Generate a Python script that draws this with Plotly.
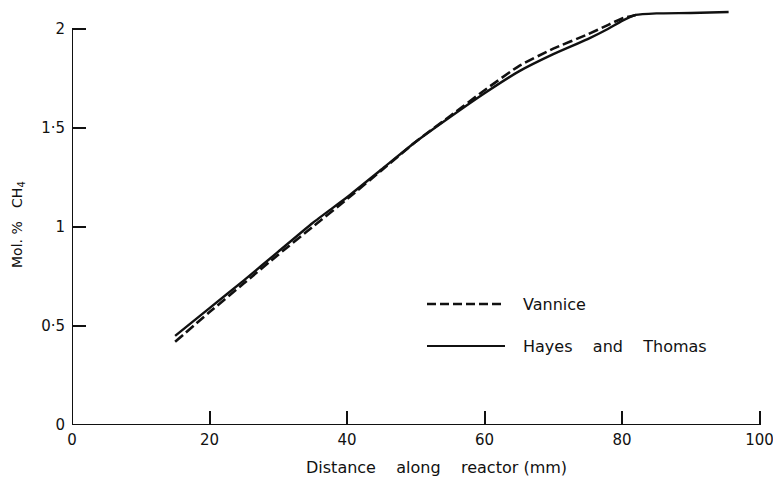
import plotly.graph_objects as go

# Data
distance = [15, 20, 25, 30, 35, 40, 45, 50, 55, 60, 65, 70, 75, 78, 80, 82, 85, 90, 95.5]
hayes_thomas = [0.45, 0.59, 0.73, 0.875, 1.02, 1.15, 1.29, 1.43, 1.555, 1.675, 1.785, 1.872, 1.948, 2.0, 2.04, 2.07, 2.078, 2.08, 2.085]
vannice_x = [15, 20, 25, 30, 35, 40, 45, 50, 55, 60, 65, 70, 75, 78, 80, 82]
vannice = [0.42, 0.57, 0.715, 0.86, 1.0, 1.14, 1.285, 1.43, 1.56, 1.69, 1.812, 1.9, 1.972, 2.02, 2.052, 2.07]

x_ticks = [0, 20, 40, 60, 80, 100]
x_ticktext = ["0", "20", "40", "60", "80", "100"]
y_ticks = [0, 0.5, 1, 1.5, 2]
y_ticktext = ["0", "0·5", "1", "1·5", "2"]

FONT = "DejaVu Sans"
INK = "#111111"

L, T, B = 72, 9, 62
PLOT_H = 487 - T - B          # 416
X_MAX = 100.5
R = 773 - L - round(688 * X_MAX / 100)

def py(p):  # pixel row -> paper y
    return (487 - B - p) / PLOT_H

def px(p):  # pixel col -> paper x
    return (p - L) / (773 - L - R)

fig = go.Figure()
fig.add_trace(go.Scatter(x=vannice_x, y=vannice, mode="lines", name="Vannice",
                         line=dict(color=INK, width=2.6, dash="10px,4px", shape="spline", smoothing=0.5),
                         showlegend=False))
fig.add_trace(go.Scatter(x=distance, y=hayes_thomas, mode="lines", name="Hayes and Thomas",
                         line=dict(color=INK, width=2.4, shape="spline", smoothing=0.5), showlegend=False))

# axis lines (end at last tick)
fig.add_shape(type="line", xref="x", yref="y", x0=0, y0=0, x1=0, y1=2, line=dict(color=INK, width=2))
fig.add_shape(type="line", xref="x", yref="y", x0=0, y0=0, x1=100, y1=0, line=dict(color=INK, width=2))

# legend drawn manually
fig.add_shape(type="line", xref="paper", yref="paper", x0=px(427), x1=px(502),
              y0=py(304), y1=py(304), line=dict(color=INK, width=2.6, dash="9px,4px"))
fig.add_shape(type="line", xref="paper", yref="paper", x0=px(427), x1=px(505),
              y0=py(346), y1=py(346), line=dict(color=INK, width=2.2))
fig.add_annotation(xref="paper", yref="paper", x=px(521), y=py(304), text="Vannice",
                   showarrow=False, xanchor="left", yanchor="middle", font=dict(family=FONT, size=16, color=INK))
fig.add_annotation(xref="paper", yref="paper", x=px(521), y=py(346),
                   text="Hayes&nbsp;&nbsp;&nbsp;&nbsp;and&nbsp;&nbsp;&nbsp;&nbsp;Thomas",
                   showarrow=False, xanchor="left", yanchor="middle", font=dict(family=FONT, size=16, color=INK))

# axis titles
fig.add_annotation(xref="paper", yref="paper", x=px(436), y=py(467),
                   text="Distance&nbsp;&nbsp;&nbsp;&nbsp;along&nbsp;&nbsp;&nbsp;&nbsp;reactor (mm)", showarrow=False,
                   xanchor="center", yanchor="middle", font=dict(family=FONT, size=16, color=INK))
fig.add_annotation(xref="paper", yref="paper", x=px(18), y=py(225),
                   text="Mol. %&nbsp;&nbsp;&nbsp;CH<sub>4</sub>", showarrow=False, textangle=-90,
                   xanchor="center", yanchor="middle", font=dict(family=FONT, size=14, color=INK))

fig.update_xaxes(range=[0, X_MAX], tickmode="array", tickvals=x_ticks, ticktext=x_ticktext,
                 ticks="inside", ticklen=14, tickwidth=2, tickcolor=INK, showline=False,
                 ticklabeloverflow="allow", automargin=False, ticklabelstandoff=4,
                 showgrid=False, zeroline=False, tickfont=dict(family=FONT, size=15, color=INK))
fig.update_yaxes(range=[0, 2.1], tickmode="array", tickvals=y_ticks, ticktext=y_ticktext,
                 ticks="inside", ticklen=14, tickwidth=2, tickcolor=INK, showline=False,
                 automargin=False, ticklabelstandoff=6,
                 showgrid=False, zeroline=False, tickfont=dict(family=FONT, size=15, color=INK))

fig.update_layout(width=773, height=487, margin=dict(l=L, r=R, t=T, b=B, autoexpand=False),
                  plot_bgcolor="white", paper_bgcolor="white", showlegend=False)

fig.write_html("out.html")
